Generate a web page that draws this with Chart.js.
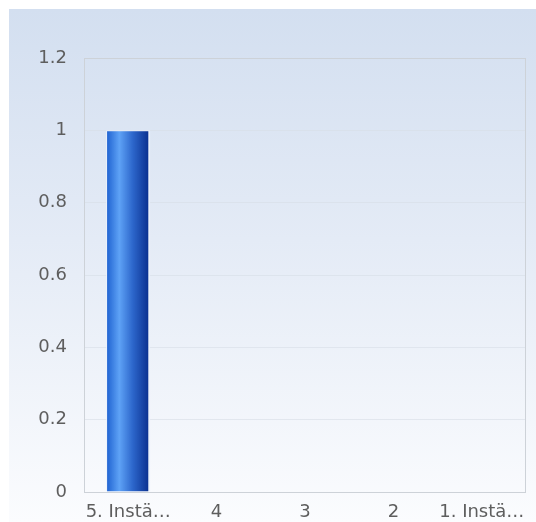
<!DOCTYPE html>
<html>
<head>
<meta charset="utf-8">
<script src="https://cdn.jsdelivr.net/npm/chart.js@4"></script>
<style>
  html, body { margin: 0; padding: 0; background: #fff; }
  #wrap {
    position: absolute; left: 9px; top: 9px; width: 527px; height: 513px;
    background: linear-gradient(to bottom, #d3dff0 0%, #e4ebf6 45%, #fbfcfe 100%);
  }
</style>
</head>
<body>
<div id="wrap"><canvas id="grafico" width="527" height="513"></canvas></div>
<script>
// dados do gráfico
const categorias = ['5. Instä…', '4', '3', '2', '1. Instä…'];
const valores = [1, 0, 0, 0, 0];
const ticksY = [0, 0.2, 0.4, 0.6, 0.8, 1, 1.2];
const larguraBarra = 0.5;

const ctx = document.getElementById('grafico');

// gradiente horizontal da barra (calculado pela escala x)
function gradienteBarra(context) {
    const chart = context.chart;
    const sx = chart.scales && chart.scales.x;
    if (!sx || !chart.chartArea) return '#2a6fd8';
    const centro = sx.getPixelForValue(context.dataIndex);
    const w = (chart.chartArea.width / categorias.length) * larguraBarra;
    const x0 = centro - w / 2;
    const g = chart.ctx.createLinearGradient(x0, 0, x0 + w, 0);
    g.addColorStop(0, '#1c5fcf');
    g.addColorStop(0.3, '#5ea2f6');
    g.addColorStop(0.6, '#2d67cc');
    g.addColorStop(1, '#072b8a');
    return g;
}

// borda do plot
const bordaPlot = {
    id: 'bordaPlot',
    afterDraw(chart) {
        const a = chart.chartArea;
        const c = chart.ctx;
        c.save();
        c.strokeStyle = '#cdd2d8';
        c.lineWidth = 1;
        c.strokeRect(a.left + 0.5, a.top + 0.5, a.right - a.left - 1, a.bottom - a.top);
        c.restore();
    }
};

new Chart(ctx, {
    type: 'bar',
    data: {
        labels: categorias,
        datasets: [{
            data: valores,
            backgroundColor: gradienteBarra,
            borderColor: 'rgba(235,242,252,0.9)',
            borderWidth: { top: 1, left: 1, right: 2, bottom: 0 },
            borderSkipped: false,
            categoryPercentage: 1,
            barPercentage: larguraBarra
        }]
    },
    options: {
        responsive: false,
        animation: false,
        layout: { padding: { top: 49, right: 10, left: 0, bottom: 0 } },
        plugins: { legend: { display: false }, tooltip: { enabled: false } },
        scales: {
            x: {
                grid: { display: false, drawTicks: false },
                border: { display: false },
                ticks: { color: '#5e5e5e', padding: 10, maxRotation: 0, autoSkip: false,
                         font: { family: 'DejaVu Sans', size: 18 } },
                afterFit(s) { s.height = 30; }
            },
            y: {
                min: 0, max: 1.2,
                afterBuildTicks(s) { s.ticks = ticksY.map(v => ({ value: v })); },
                grid: { color: 'rgba(215,222,230,0.6)', drawTicks: false },
                border: { display: false },
                ticks: { color: '#5e5e5e', padding: 17,
                         font: { family: 'DejaVu Sans', size: 18 },
                         callback: v => String(Math.round(v * 10) / 10) },
                afterFit(s) { s.width = 75; }
            }
        }
    },
    plugins: [bordaPlot]
});
</script>
</body>
</html>
